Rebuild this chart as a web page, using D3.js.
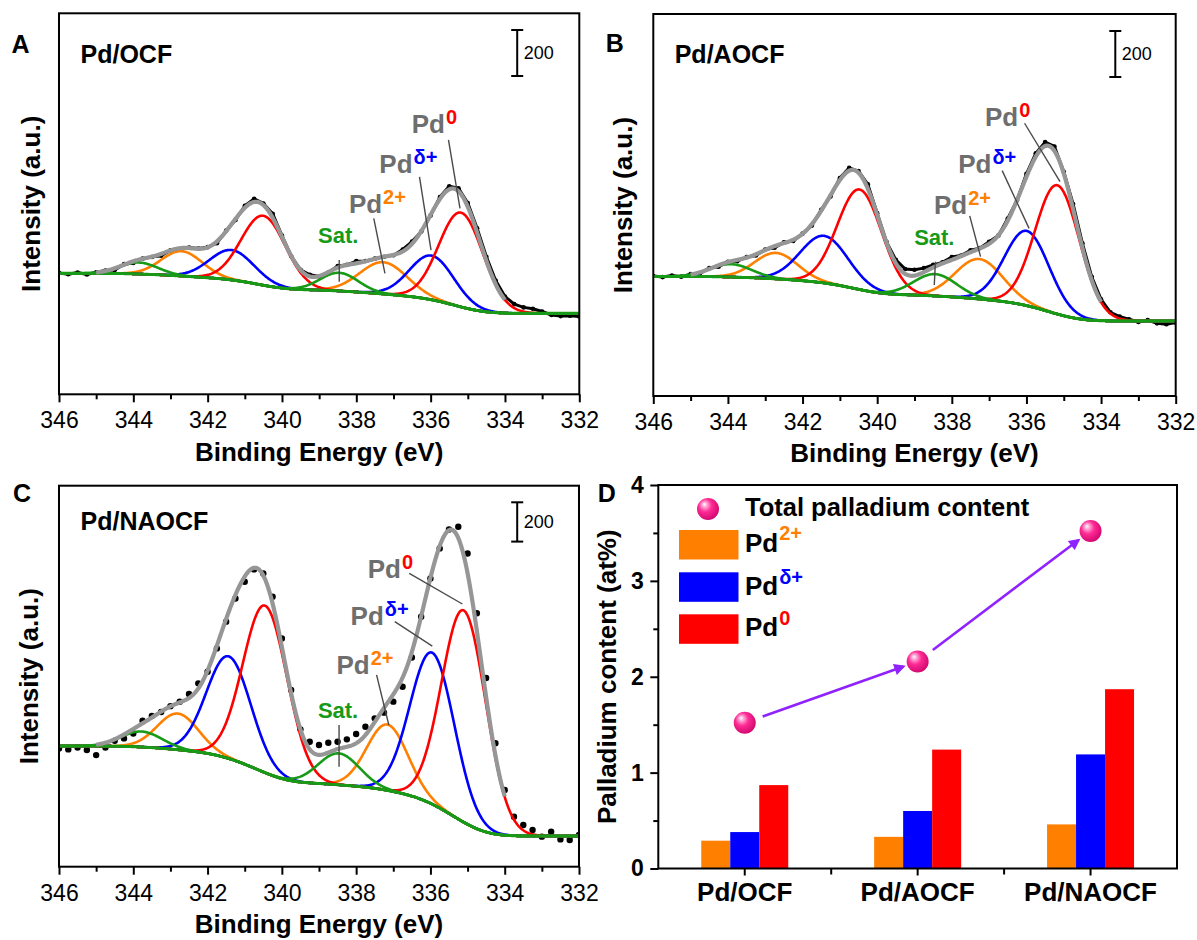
<!DOCTYPE html>
<html>
<head>
<meta charset="utf-8">
<script src="https://cdn.jsdelivr.net/npm/d3@7"></script>
<style>
  body { margin: 0; background: #fff; }
  svg { display: block; font-family: Arial, "Liberation Sans", Helvetica, sans-serif; }
</style>
</head>
<body>
<svg id="fig" width="1197" height="940"></svg>
<script>
// ---------------- data ----------------
const sampleNames = ["Pd/OCF", "Pd/AOCF", "Pd/NAOCF"];
const energyTicks = [346, 344, 342, 340, 338, 336, 334, 332];
const energyMinorTicks = [345, 343, 341, 339, 337, 335, 333];
// acquisition grid: 346 eV down to 332 eV in 0.25 eV steps
const energyStart = 346, energyStep = 0.25;

// measured Pd 3d intensity (counts)
const measuredOCF = [528, 522, 530, 521, 531, 538, 541, 566, 571, 590, 597, 603, 626, 630, 638, 634, 640, 657, 712, 758,
  820, 850, 830, 785, 690, 600, 541, 520, 512, 530, 558, 563, 579, 580, 590, 598, 605, 630, 664, 708,
  778, 858, 905, 896, 832, 722, 598, 495, 425, 392, 378, 372, 360, 345, 340, 342, 338];
const measuredAOCF = [522, 517, 524, 519, 530, 533, 556, 562, 584, 586, 604, 611, 637, 645, 668, 674, 706, 741, 810, 868,
  948, 992, 978, 920, 795, 670, 592, 552, 549, 556, 570, 581, 604, 611, 634, 643, 671, 698, 772, 852,
  966, 1055, 1104, 1085, 975, 835, 664, 518, 420, 364, 345, 334, 322, 330, 316, 312, 319];
const measuredNAOCF = [602, 597, 607, 594, 568, 607, 641, 653, 678, 743, 767, 787, 817, 840, 879, 933, 992, 1111, 1247, 1365,
  1450, 1513, 1492, 1374, 1162, 899, 699, 636, 619, 631, 636, 648, 675, 712, 755, 784, 840, 916, 1065, 1272,
  1467, 1620, 1716, 1730, 1594, 1290, 960, 628, 390, 254, 212, 187, 153, 178, 139, 136, 161];

// fitted components: [species, centre (eV), height above background (counts), FWHM (eV)]
const fitOCF = [
  ["pd0", 335.18, 410, 1.4], ["pd0", 340.50, 302, 1.4],
  ["pdd", 335.97, 192, 1.4], ["pdd", 341.35, 130, 1.4],
  ["pd2", 337.27, 138, 1.5], ["pd2", 342.70, 108, 1.3],
  ["sat", 338.46, 79, 1.2],  ["sat", 343.85, 50, 1.2]
];
const fitAOCF = [
  ["pd0", 335.17, 560, 1.4], ["pd0", 340.47, 435, 1.4],
  ["pdd", 335.99, 325, 1.4], ["pdd", 341.42, 205, 1.5],
  ["pd2", 337.27, 174, 1.5], ["pd2", 342.71, 113, 1.35],
  ["sat", 338.45, 95, 1.35], ["sat", 343.92, 56, 1.3]
];
const fitNAOCF = [
  ["pd0", 335.10, 1078, 1.4], ["pd0", 340.45, 850, 1.4],
  ["pdd", 335.95, 771, 1.4],  ["pdd", 341.43, 520, 1.4],
  ["pd2", 337.16, 335, 1.3],  ["pd2", 342.80, 184, 1.3],
  ["sat", 338.47, 160, 1.3],  ["sat", 343.78, 79, 1.3]
];
// Shirley background levels [at 346 eV, at 332 eV]
const backgroundOCF = [526, 352];
const backgroundAOCF = [520, 326];
const backgroundNAOCF = [614, 156];
// intensity shown over each frame height (counts)
const intensityMax = [1657, 1661, 1939];
const scaleBarCounts = 200;

// palladium content (at%)
const pd2Content = [0.29, 0.33, 0.46];
const pdDeltaContent = [0.38, 0.60, 1.19];
const pd0Content = [0.87, 1.24, 1.87];
const totalContent = [1.52, 2.16, 3.52];
const contentTicks = [0, 1, 2, 3, 4];
const contentMinorTicks = [0.5, 1.5, 2.5, 3.5];

// ---------------- styling ----------------
const colors = {
  pd0: "#ff0000", pdd: "#0000ff", pd2: "#ff8000", sat: "#179a17",
  envelope: "#969696", label: "#6e6e6e", leader: "#4a4a4a", arrow: "#8f22ff"
};
const supText = { pd0: "0", pdd: "\u03b4+", pd2: "2+" };

// peak annotations: label anchor and leader line, in (eV, counts)
const labelsOCF = [
  { sp: "pd0", at: [336.51, 1136], from: [335.52, 1107], to: [335.21, 809] },
  { sp: "pdd", at: [337.38, 961], from: [336.30, 946], to: [335.99, 627] },
  { sp: "pd2", at: [338.20, 787], from: [337.53, 765], to: [337.23, 526] },
  { sp: "sat", at: [339.03, 658], from: [338.46, 584], to: [338.46, 490] }
];
const labelsAOCF = [
  { sp: "pd0", at: [337.11, 1174], from: [336.05, 1186], to: [335.10, 932] },
  { sp: "pdd", at: [337.83, 971], from: [336.65, 980], to: [335.93, 729] },
  { sp: "pd2", at: [338.48, 791], from: [337.52, 783], to: [337.23, 606] },
  { sp: "sat", at: [339.01, 657], from: [338.44, 584], to: [338.47, 483] }
];
const labelsNAOCF = [
  { sp: "pd0", at: [337.69, 1471], from: [336.57, 1493], to: [335.14, 1337] },
  { sp: "pdd", at: [338.15, 1230], from: [336.96, 1247], to: [335.95, 1123] },
  { sp: "pd2", at: [338.53, 981], from: [337.45, 976], to: [337.12, 721] },
  { sp: "sat", at: [339.03, 755], from: [338.46, 721], to: [338.46, 509] }
];

const xpsPanels = [
  { letter: "A", name: sampleNames[0], measured: measuredOCF, fit: fitOCF, bgEnds: backgroundOCF,
    yMax: intensityMax[0], labels: labelsOCF,
    box: { l: 59, r: 579.3, t: 13.3, b: 394.3 }, letterPos: [11.5, 53], namePos: [80.5, 62.7],
    bar: { x: 517.2, top: 30 }, yLabelX: 39.5, xLabelY: 461, dotR: 2.3, joined: true },
  { letter: "B", name: sampleNames[1], measured: measuredAOCF, fit: fitAOCF, bgEnds: backgroundAOCF,
    yMax: intensityMax[1], labels: labelsAOCF,
    box: { l: 653.3, r: 1175.7, t: 14, b: 396 }, letterPos: [605.7, 52], namePos: [674.7, 63.3],
    bar: { x: 1115.3, top: 31 }, yLabelX: 632, xLabelY: 462, dotR: 2.3, joined: true },
  { letter: "C", name: sampleNames[2], measured: measuredNAOCF, fit: fitNAOCF, bgEnds: backgroundNAOCF,
    yMax: intensityMax[2], labels: labelsNAOCF,
    box: { l: 59, r: 579, t: 485.7, b: 866.7 }, letterPos: [13, 502], namePos: [80.5, 530],
    bar: { x: 517.2, top: 502.3 }, yLabelX: 38, xLabelY: 933, dotR: 3.2, joined: false }
];

// ---------------- helpers ----------------
function gauss(x, c, h, w) {
  return h * Math.exp(-4 * Math.LN2 * (x - c) * (x - c) / (w * w));
}
const gridStep = 0.02;
const grid = d3.range(0, 701).map(i => 346 - i * gridStep);

// Shirley-type background: step proportional to peak area on the low-BE side
function buildFit(fit, bgEnds) {
  const peaksSum = grid.map(e => d3.sum(fit, f => gauss(e, f[1], f[2], f[3])));
  const n = grid.length;
  const cum = new Array(n).fill(0);
  for (let i = n - 2; i >= 0; i--) cum[i] = cum[i + 1] + (peaksSum[i] + peaksSum[i + 1]) / 2 * gridStep;
  const total = cum[0];
  const bg = cum.map(a => bgEnds[1] + (bgEnds[0] - bgEnds[1]) * a / total);
  return { bg, peaksSum };
}

function styleAxis(a, fontSize, weight) {
  a.attr("font-family", null).attr("font-size", null);
  a.select(".domain").remove();
  a.selectAll("line").attr("stroke", "#000").attr("stroke-width", 2);
  a.selectAll("text").attr("font-size", fontSize).attr("font-weight", weight).attr("fill", "#000");
}

const svg = d3.select("#fig");
const defs = svg.append("defs");

// ---------------- XPS panels A–C ----------------
xpsPanels.forEach((p, k) => {
  const g = svg.append("g");
  const x = d3.scaleLinear().domain([346, 332]).range([p.box.l, p.box.r]);
  const y = d3.scaleLinear().domain([0, p.yMax]).range([p.box.b, p.box.t]);
  const line = d3.line().x(d => x(d[0])).y(d => y(d[1]));

  const clipId = "plotClip" + k;
  defs.append("clipPath").attr("id", clipId).append("rect")
    .attr("x", p.box.l).attr("y", p.box.t)
    .attr("width", p.box.r - p.box.l).attr("height", p.box.b - p.box.t);
  const plot = g.append("g").attr("clip-path", `url(#${clipId})`);

  const { bg, peaksSum } = buildFit(p.fit, p.bgEnds);

  // measured points
  const pts = p.measured.map((v, i) => [energyStart - i * energyStep, v]);
  if (p.joined) {
    plot.append("path").attr("d", line(pts)).attr("fill", "none")
      .attr("stroke", "#000").attr("stroke-width", 3).attr("stroke-linejoin", "round");
  }
  plot.selectAll("circle.meas").data(pts).join("circle").attr("class", "meas")
    .attr("cx", d => x(d[0])).attr("cy", d => y(d[1])).attr("r", p.dotR).attr("fill", "#000");

  // components on top of the background
  const drawComponent = f => {
    const curve = grid.map((e, i) => [e, bg[i] + gauss(e, f[1], f[2], f[3])]);
    plot.append("path").attr("d", line(curve)).attr("fill", "none")
      .attr("stroke", colors[f[0]]).attr("stroke-width", 2.6).attr("stroke-linejoin", "round");
  };
  ["pd2", "pdd", "pd0"].forEach(sp => p.fit.filter(f => f[0] === sp).forEach(drawComponent));

  // background
  plot.append("path").attr("d", line(grid.map((e, i) => [e, bg[i]]))).attr("fill", "none")
    .attr("stroke", colors.sat).attr("stroke-width", 3);
  p.fit.filter(f => f[0] === "sat").forEach(drawComponent);

  // fit envelope
  const env = grid.map((e, i) => [e, bg[i] + peaksSum[i]]).filter(d => d[0] <= 345.0 && d[0] >= 334.0);
  plot.append("path").attr("d", line(env)).attr("fill", "none")
    .attr("stroke", colors.envelope).attr("stroke-width", 4.2).attr("stroke-linejoin", "round");

  // frame
  g.append("rect").attr("x", p.box.l).attr("y", p.box.t)
    .attr("width", p.box.r - p.box.l).attr("height", p.box.b - p.box.t)
    .attr("fill", "none").attr("stroke", "#000").attr("stroke-width", 2);

  // x axis
  g.append("g").attr("transform", `translate(0,${p.box.b})`)
    .call(d3.axisBottom(x).tickValues(energyTicks).tickSize(8).tickPadding(9.5).tickFormat(d3.format("d")))
    .call(a => styleAxis(a, 23, "normal"));
  g.append("g").attr("transform", `translate(0,${p.box.b})`)
    .call(d3.axisBottom(x).tickValues(energyMinorTicks).tickSize(5).tickFormat(""))
    .call(a => styleAxis(a, 23, "normal"));

  // axis titles
  g.append("text").attr("x", (p.box.l + p.box.r) / 2).attr("y", p.xLabelY)
    .attr("text-anchor", "middle").attr("font-size", 26).attr("font-weight", "bold")
    .text("Binding Energy (eV)");
  g.append("text").attr("transform", `translate(${p.yLabelX},${(p.box.t + p.box.b) / 2}) rotate(-90)`)
    .attr("text-anchor", "middle").attr("font-size", 26).attr("font-weight", "bold")
    .text("Intensity (a.u.)");

  // panel letter and sample name
  g.append("text").attr("x", p.letterPos[0]).attr("y", p.letterPos[1])
    .attr("font-size", 25).attr("font-weight", "bold").text(p.letter);
  g.append("text").attr("x", p.namePos[0]).attr("y", p.namePos[1])
    .attr("font-size", 25).attr("font-weight", "bold").text(p.name);

  // intensity scale bar
  const barLen = y(0) - y(scaleBarCounts);
  const sb = g.append("g").attr("stroke", "#000").attr("stroke-width", 2);
  sb.append("line").attr("x1", p.bar.x).attr("x2", p.bar.x).attr("y1", p.bar.top).attr("y2", p.bar.top + barLen);
  sb.append("line").attr("x1", p.bar.x - 6).attr("x2", p.bar.x + 6).attr("y1", p.bar.top).attr("y2", p.bar.top);
  sb.append("line").attr("x1", p.bar.x - 6).attr("x2", p.bar.x + 6).attr("y1", p.bar.top + barLen).attr("y2", p.bar.top + barLen);
  g.append("text").attr("x", p.bar.x + 6.5).attr("y", p.bar.top + barLen / 2 + 6.5)
    .attr("font-size", 18).text(scaleBarCounts);

  // peak labels
  p.labels.forEach(lb => {
    g.append("line")
      .attr("x1", x(lb.from[0])).attr("y1", y(lb.from[1]))
      .attr("x2", x(lb.to[0])).attr("y2", y(lb.to[1]))
      .attr("stroke", colors.leader).attr("stroke-width", 1.4);
    if (lb.sp === "sat") {
      g.append("text").attr("x", x(lb.at[0])).attr("y", y(lb.at[1]))
        .attr("font-size", 22).attr("font-weight", "bold").attr("fill", colors.sat).text("Sat.");
    } else {
      const t = g.append("text").attr("x", x(lb.at[0])).attr("y", y(lb.at[1]))
        .attr("font-size", 26).attr("font-weight", "bold").attr("fill", colors.label);
      t.append("tspan").text("Pd");
      t.append("tspan").attr("dx", 1).attr("dy", -9).attr("font-size", 20)
        .attr("fill", colors[lb.sp]).text(supText[lb.sp]);
    }
  });
});

// ---------------- panel D: palladium content ----------------
const dBox = { l: 658.3, r: 1177, t: 485, b: 868.5 };
const gD = svg.append("g");
const xD = d3.scaleBand().domain(sampleNames).range([dBox.l, dBox.r]);
const yD = d3.scaleLinear().domain([0, 4]).range([dBox.b, dBox.t]);
const species = ["pd2", "pdd", "pd0"];
const speciesContent = [pd2Content, pdDeltaContent, pd0Content];
const xSub = d3.scaleBand().domain(species).range([-43.5, 43.5]);
const centre = name => xD(name) + xD.bandwidth() / 2;

species.forEach((sp, j) => {
  gD.selectAll("rect.bar-" + sp).data(sampleNames).join("rect").attr("class", "bar-" + sp)
    .attr("x", name => centre(name) + xSub(sp))
    .attr("width", xSub.bandwidth())
    .attr("y", (name, i) => yD(speciesContent[j][i]))
    .attr("height", (name, i) => yD(0) - yD(speciesContent[j][i]))
    .attr("fill", colors[sp]);
});

// frame and axes
gD.append("rect").attr("x", dBox.l).attr("y", dBox.t)
  .attr("width", dBox.r - dBox.l).attr("height", dBox.b - dBox.t)
  .attr("fill", "none").attr("stroke", "#000").attr("stroke-width", 2);
gD.append("g").attr("transform", `translate(${dBox.l},0)`)
  .call(d3.axisLeft(yD).tickValues(contentTicks).tickSize(8).tickPadding(6.6).tickFormat(d3.format("d")))
  .call(a => styleAxis(a, 23, "bold"));
gD.append("g").attr("transform", `translate(${dBox.l},0)`)
  .call(d3.axisLeft(yD).tickValues(contentMinorTicks).tickSize(5).tickFormat(""))
  .call(a => styleAxis(a, 23, "bold"));
gD.append("g").attr("transform", `translate(0,${dBox.b})`)
  .call(d3.axisBottom(xD).tickSize(7).tickPadding(7))
  .call(a => styleAxis(a, 26, "bold"));
sampleNames.slice(1).forEach(name => {
  gD.append("line").attr("x1", xD(name)).attr("x2", xD(name))
    .attr("y1", dBox.b).attr("y2", dBox.b + 6).attr("stroke", "#000").attr("stroke-width", 2);
});
gD.append("text").attr("transform", `translate(616,${(dBox.t + dBox.b) / 2}) rotate(-90)`)
  .attr("text-anchor", "middle").attr("font-size", 26).attr("font-weight", "bold")
  .text("Palladium content (at%)");
gD.append("text").attr("x", 597.7).attr("y", 502).attr("font-size", 25).attr("font-weight", "bold").text("D");

// sphere markers and arrows for total content
const ball = defs.append("radialGradient").attr("id", "ball")
  .attr("cx", 0.42).attr("cy", 0.4).attr("r", 0.62).attr("fx", 0.33).attr("fy", 0.28);
[[0, "#ffffff"], [0.16, "#ffb0da"], [0.48, "#ff2b95"], [1, "#d0086f"]]
  .forEach(s => ball.append("stop").attr("offset", s[0]).attr("stop-color", s[1]));
defs.append("marker").attr("id", "arrowHead").attr("viewBox", "0 0 10 10")
  .attr("refX", 8).attr("refY", 5).attr("markerWidth", 5).attr("markerHeight", 4.4)
  .attr("orient", "auto").append("path").attr("d", "M0,0 L10,5 L0,10 z").attr("fill", colors.arrow);

const totals = sampleNames.map((name, i) => [centre(name), yD(totalContent[i])]);
d3.pairs(totals).forEach(([a, b]) => {
  const dx = b[0] - a[0], dy = b[1] - a[1], len = Math.hypot(dx, dy);
  const ux = dx / len, uy = dy / len;
  gD.append("line")
    .attr("x1", a[0] + ux * 19).attr("y1", a[1] + uy * 19)
    .attr("x2", b[0] - ux * 15).attr("y2", b[1] - uy * 15)
    .attr("stroke", colors.arrow).attr("stroke-width", 2.6).attr("marker-end", "url(#arrowHead)");
});
gD.selectAll("circle.total").data(totals).join("circle").attr("class", "total")
  .attr("cx", d => d[0]).attr("cy", d => d[1]).attr("r", 11).attr("fill", "url(#ball)");

// legend
gD.append("circle").attr("cx", 708).attr("cy", 509).attr("r", 11).attr("fill", "url(#ball)");
gD.append("text").attr("x", 745).attr("y", 516).attr("font-size", 25.5).attr("font-weight", "bold")
  .text("Total palladium content");
const legendRows = [["pd2", 530, 551.7], ["pdd", 572.3, 595], ["pd0", 614.3, 636]];
legendRows.forEach(([sp, top, base]) => {
  gD.append("rect").attr("x", 679).attr("y", top).attr("width", 59.5).attr("height", 29.5).attr("fill", colors[sp]);
  const t = gD.append("text").attr("x", 745).attr("y", base).attr("font-size", 26).attr("font-weight", "bold");
  t.append("tspan").text("Pd");
  t.append("tspan").attr("dx", 1).attr("dy", -11.5).attr("font-size", 20).attr("fill", colors[sp]).text(supText[sp]);
});
</script>
</body>
</html>
